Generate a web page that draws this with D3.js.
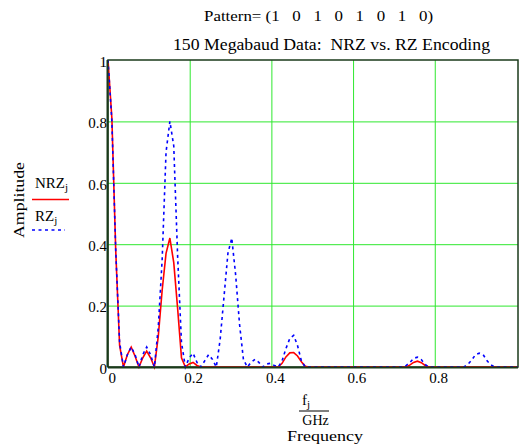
<!DOCTYPE html>
<html>
<head>
<meta charset="utf-8">
<script src="https://cdn.jsdelivr.net/npm/d3@7"></script>
<style>
  html, body { margin: 0; padding: 0; background: #fff; }
  svg { display: block; }
  text { font-family: "Liberation Serif", "Times New Roman", serif; fill: #000; }
</style>
</head>
<body>
<svg id="chart" width="519" height="444"></svg>
<script>
// ---- DATA ----
const freqGHz = [
  0.0000, 0.0095, 0.0189, 0.0284, 0.0379, 0.0474, 0.0568, 0.0663, 0.0758, 0.0852,
  0.0947, 0.1042, 0.1136, 0.1231, 0.1326, 0.1421, 0.1515, 0.1610, 0.1705, 0.1799,
  0.1894, 0.1989, 0.2083, 0.2178, 0.2273, 0.2368, 0.2462, 0.2557, 0.2652, 0.2746,
  0.2841, 0.2936, 0.3030, 0.3125, 0.3220, 0.3315, 0.3409, 0.3504, 0.3599, 0.3693,
  0.3788, 0.3883, 0.3977, 0.4072, 0.4167, 0.4262, 0.4356, 0.4451, 0.4546, 0.4640,
  0.4735, 0.4830, 0.4924, 0.5019, 0.5114, 0.5209, 0.5303, 0.5398, 0.5493, 0.5587,
  0.5682, 0.5777, 0.5871, 0.5966, 0.6061, 0.6156, 0.6250, 0.6345, 0.6440, 0.6534,
  0.6629, 0.6724, 0.6818, 0.6913, 0.7008, 0.7103, 0.7197, 0.7292, 0.7387, 0.7481,
  0.7576, 0.7671, 0.7765, 0.7860, 0.7955, 0.8050, 0.8144, 0.8239, 0.8334, 0.8428,
  0.8523, 0.8618, 0.8712, 0.8807, 0.8902, 0.8997, 0.9091, 0.9186, 0.9281, 0.9375,
  0.9470, 0.9565, 0.9659, 0.9754, 0.9849, 0.9944, 1.0038
];

const nrzAmplitude = [
  1.0, 0.81, 0.38, 0.07, 0, 0.04, 0.065, 0.035, 0, 0.03,
  0.052, 0.03, 0, 0.1, 0.25, 0.37, 0.42, 0.34, 0.19, 0.03,
  0, 0.01, 0.015, 0.005, 0, 0, 0, 0, 0, 0,
  0, 0, 0, 0, 0, 0, 0, 0, 0, 0,
  0, 0, 0, 0, 0, 0.012, 0.033, 0.046, 0.047, 0.036,
  0.017, 0.002, 0, 0, 0, 0, 0, 0, 0, 0,
  0, 0, 0, 0, 0, 0, 0, 0, 0, 0,
  0, 0, 0, 0, 0, 0, 0, 0, 0.006, 0.015,
  0.019, 0.014, 0.005, 0, 0, 0, 0, 0, 0, 0,
  0, 0, 0, 0, 0, 0, 0, 0, 0, 0,
  0, 0, 0, 0, 0, 0, 0
];

const rzAmplitude = [
  1.0, 0.80, 0.38, 0.08, 0, 0.04, 0.065, 0.04, 0, 0.04,
  0.065, 0.04, 0, 0.13, 0.35, 0.70, 0.80, 0.72, 0.36, 0.08,
  0, 0.03, 0.045, 0.015, 0, 0.02, 0.04, 0.025, 0, 0.09,
  0.23, 0.37, 0.42, 0.30, 0.14, 0.025, 0, 0.015, 0.025, 0.015,
  0, 0.01, 0.012, 0.005, 0, 0.02, 0.06, 0.093, 0.103, 0.07,
  0.02, 0, 0, 0, 0, 0, 0, 0, 0, 0,
  0, 0, 0, 0, 0, 0, 0, 0, 0, 0,
  0, 0, 0, 0, 0, 0, 0, 0.004, 0.014, 0.028,
  0.032, 0.024, 0.008, 0, 0, 0, 0, 0, 0, 0,
  0, 0, 0, 0.008, 0.022, 0.04, 0.045, 0.04, 0.02, 0.007,
  0, 0, 0, 0, 0, 0, 0
];

const xTickValues = [0, 0.2, 0.4, 0.6, 0.8];
const xTickLabels = ["0", "0.2", "0.4", "0.6", "0.8"];
const yTickValues = [0, 0.2, 0.4, 0.6, 0.8, 1];
const yTickLabels = ["0", "0.2", "0.4", "0.6", "0.8", "1"];

const patternTitle = "Pattern= (1   0   1   0   1   0   1   0)";
const chartTitle = "150 Megabaud Data:  NRZ vs. RZ Encoding";
const yAxisTitle = "Amplitude";
const xAxisTitle = "Frequency";
const seriesNames = ["NRZ", "RZ"];

// ---- DRAWING ----
const svg = d3.select("#chart");
const L = 108, R = 518, T = 60, B = 367;

const x = d3.scaleLinear().domain([0, freqGHz[freqGHz.length - 1]]).range([L, R]);
const y = d3.scaleLinear().domain([0, 1]).range([B, T]);

// grid lines
const gridColor = "#2ee82e";
const gx = svg.append("g").attr("transform", `translate(0,${B})`)
  .call(d3.axisBottom(x).tickValues(xTickValues.filter(v => v > 0)).tickSize(-(B - T)).tickFormat(""));
gx.select(".domain").remove();
gx.selectAll("line").attr("stroke", gridColor).attr("stroke-width", 1);

const gy = svg.append("g").attr("transform", `translate(${L},0)`)
  .call(d3.axisLeft(y).tickValues(yTickValues.filter(v => v > 0 && v < 1)).tickSize(-(R - L)).tickFormat(""));
gy.select(".domain").remove();
gy.selectAll("line").attr("stroke", gridColor).attr("stroke-width", 1);

// frame
svg.append("rect").attr("x", L).attr("y", T).attr("width", R - L).attr("height", B - T)
  .attr("fill", "none").attr("stroke", "#1a3a1a").attr("stroke-width", 1.5);

// tick labels via axes
const ax = svg.append("g").attr("transform", `translate(0,${B})`)
  .call(d3.axisBottom(x).tickValues(xTickValues).tickSize(0)
    .tickFormat((d, i) => xTickLabels[i]));
ax.select(".domain").remove();
ax.selectAll("text")
  .attr("font-size", 15)
  .attr("font-family", '"Liberation Serif", "Times New Roman", serif')
  .attr("fill", "#000")
  .attr("text-anchor", "start")
  .attr("dy", null)
  .attr("y", 16)
  .attr("x", (d) => d === 0 ? 0 : -6);

const ay = svg.append("g").attr("transform", `translate(${L},0)`)
  .call(d3.axisLeft(y).tickValues(yTickValues).tickSize(0)
    .tickFormat((d, i) => yTickLabels[i]));
ay.select(".domain").remove();
ay.selectAll("text")
  .attr("font-size", 15)
  .attr("font-family", '"Liberation Serif", "Times New Roman", serif')
  .attr("fill", "#000")
  .attr("x", -1)
  .attr("dy", "0.42em");

// series lines
const nrzData = freqGHz.map((f, i) => ({ f, v: nrzAmplitude[i] }));
const rzData = freqGHz.map((f, i) => ({ f, v: rzAmplitude[i] }));
const line = d3.line().x(d => x(d.f)).y(d => y(d.v));

svg.append("path").datum(nrzData).attr("d", line)
  .attr("fill", "none").attr("stroke", "#ff0000").attr("stroke-width", 1.6);
svg.append("path").datum(rzData).attr("d", line)
  .attr("fill", "none").attr("stroke", "#0000ff").attr("stroke-width", 1.6)
  .attr("stroke-dasharray", "3,3.5");

// bottom and left axis lines (thicker, dark)
svg.append("line").attr("x1", L).attr("x2", R).attr("y1", B + 0.5).attr("y2", B + 0.5)
  .attr("stroke", "#1a3a1a").attr("stroke-width", 2);
svg.append("line").attr("x1", L - 0.5).attr("x2", L - 0.5).attr("y1", T).attr("y2", B)
  .attr("stroke", "#1a3a1a").attr("stroke-width", 2);

// titles
svg.append("text").attr("x", 318.5).attr("y", 20.5)
  .attr("text-anchor", "middle").attr("font-size", 15)
  .style("white-space", "pre")
  .attr("textLength", 229).attr("lengthAdjust", "spacingAndGlyphs")
  .text(patternTitle);
svg.append("text").attr("x", 331.5).attr("y", 50)
  .attr("text-anchor", "middle").attr("font-size", 16)
  .style("white-space", "pre")
  .attr("textLength", 317).attr("lengthAdjust", "spacingAndGlyphs")
  .text(chartTitle);

// y axis title
svg.append("text").attr("transform", "translate(23.5,200) rotate(-90)")
  .attr("text-anchor", "middle").attr("font-size", 15)
  .attr("textLength", 76).attr("lengthAdjust", "spacingAndGlyphs")
  .text(yAxisTitle);

// x axis title: f_j / GHz, Frequency
const fx = svg.append("text").attr("x", 302).attr("y", 404.5).attr("font-size", 15);
fx.append("tspan").text("f");
fx.append("tspan").attr("font-size", 11).attr("dy", 3).text("j");
svg.append("line").attr("x1", 299).attr("x2", 329).attr("y1", 411).attr("y2", 411)
  .attr("stroke", "#000").attr("stroke-width", 1);
svg.append("text").attr("x", 315.5).attr("y", 424.5).attr("text-anchor", "middle")
  .attr("font-size", 14).text("GHz");
svg.append("text").attr("x", 325).attr("y", 440.5).attr("text-anchor", "middle")
  .attr("font-size", 14).attr("textLength", 76).attr("lengthAdjust", "spacingAndGlyphs")
  .text(xAxisTitle);

// legend
const t1 = svg.append("text").attr("x", 35).attr("y", 187.5).attr("font-size", 15);
t1.append("tspan").text(seriesNames[0]);
t1.append("tspan").attr("font-size", 11).attr("dy", 3).text("j");
svg.append("line").attr("x1", 32).attr("x2", 69).attr("y1", 199.5).attr("y2", 199.5)
  .attr("stroke", "#ff0000").attr("stroke-width", 1.6);
const t2 = svg.append("text").attr("x", 35).attr("y", 220.5).attr("font-size", 15);
t2.append("tspan").text(seriesNames[1]);
t2.append("tspan").attr("font-size", 11).attr("dy", 3).text("j");
svg.append("line").attr("x1", 32).attr("x2", 65).attr("y1", 230).attr("y2", 230)
  .attr("stroke", "#0000ff").attr("stroke-width", 1.6).attr("stroke-dasharray", "3,3.5");
</script>
</body>
</html>
